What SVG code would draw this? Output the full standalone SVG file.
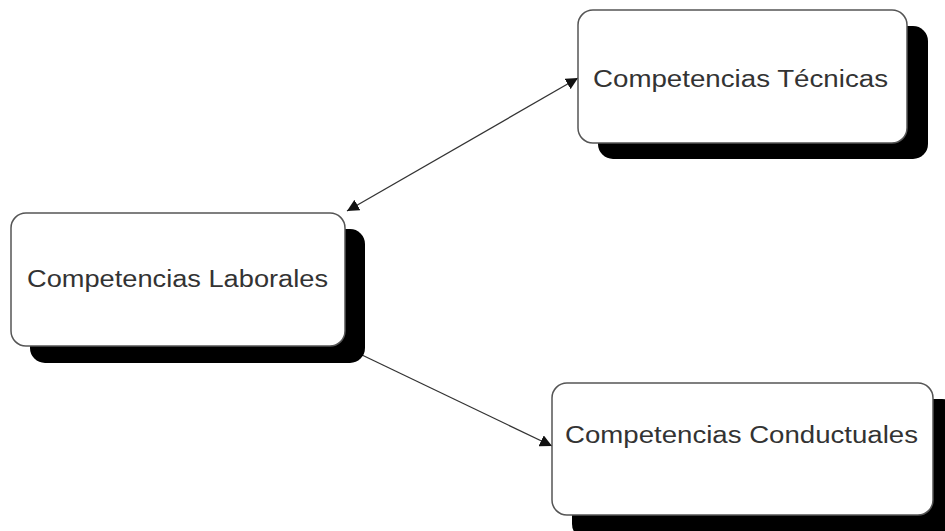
<svg xmlns="http://www.w3.org/2000/svg" width="945" height="531" viewBox="0 0 945 531">
  <style>
    .shadow { fill: #000; }
    .box { fill: #fff; stroke: #555; stroke-width: 1.5; }
    .label { font-family: "Liberation Sans", Arial, sans-serif; font-size: 23px; fill: #333; }
    .edge { stroke: #333; stroke-width: 1.3; fill: none; }
  </style>
  <defs>
    <marker id="arrow" viewBox="0 0 10 10" refX="10" refY="5" markerWidth="12" markerHeight="12" markerUnits="userSpaceOnUse" orient="auto-start-reverse">
      <path d="M0,0 L10,5 L0,10 z" fill="#111"/>
    </marker>
  </defs>
  <rect width="945" height="531" fill="#fff"/>

  <g id="edges">
    <line class="edge" x1="347" y1="211" x2="578" y2="78" marker-start="url(#arrow)" marker-end="url(#arrow)"/>
    <line class="edge" x1="362" y1="355" x2="552" y2="446" marker-end="url(#arrow)"/>
  </g>

  <g id="node-laborales">
    <rect class="shadow" x="30" y="229" width="335" height="134" rx="15"/>
    <rect class="box" x="11" y="213" width="334" height="133" rx="15"/>
    <text class="label" x="27" y="287" textLength="301" lengthAdjust="spacingAndGlyphs">Competencias Laborales</text>
  </g>

  <g id="node-tecnicas">
    <rect class="shadow" x="598" y="26" width="330" height="133" rx="15"/>
    <rect class="box" x="578" y="10" width="329" height="133" rx="15"/>
    <text class="label" x="593" y="87" textLength="295" lengthAdjust="spacingAndGlyphs">Competencias Técnicas</text>
  </g>

  <g id="node-conductuales">
    <rect class="shadow" x="572" y="399" width="385" height="140" rx="15"/>
    <rect class="box" x="552" y="383" width="381" height="132" rx="15"/>
    <text class="label" x="565" y="443" textLength="353" lengthAdjust="spacingAndGlyphs">Competencias Conductuales</text>
  </g>
</svg>
